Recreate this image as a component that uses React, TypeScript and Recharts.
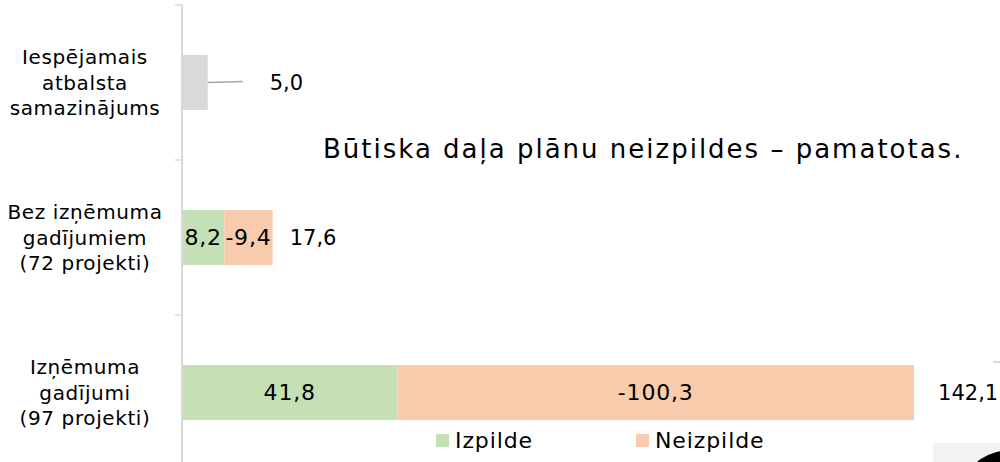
import { BarChart, Bar, XAxis, YAxis, Legend, LabelList } from 'recharts';

// categories (top to bottom) and series values
const categories = [
  ['Iespējamais', 'atbalsta', 'samazinājums'],
  ['Bez izņēmuma', 'gadījumiem', '(72 projekti)'],
  ['Izņēmuma', 'gadījumi', '(97 projekti)'],
];
const izpilde = [null, 8.2, 41.8];
const neizpilde = [null, -9.4, -100.3];
const samazinajums = [5.0, null, null];

const title = 'Būtiska daļa plānu neizpildes – pamatotas.';

const FONT = '"DejaVu Sans", Verdana, sans-serif';
const GREEN = '#c5e0b4';
const PEACH = '#f8cbad';
const GRAY = '#d9d9d9';

const data = categories.map((c, i) => ({
  name: c.join('\n'),
  izpilde: izpilde[i],
  neizpilde: neizpilde[i],
  neizpildeAbs: neizpilde[i] == null ? null : Math.abs(neizpilde[i] as number),
  samazinajums: samazinajums[i],
  total: Math.abs(izpilde[i] ?? 0) + Math.abs(neizpilde[i] ?? 0) + Math.abs(samazinajums[i] ?? 0),
}));

const fmt = (v: number) => v.toFixed(1).replace('.', ',');

const BAND = 155;

function CategoryTick({ x, y, payload }: any) {
  const lines = String(payload.value).split('\n');
  return (
    <g>
      <line x1={175} x2={182} y1={y - BAND / 2} y2={y - BAND / 2} stroke="#d9d9d9" strokeWidth={1.5} />
      <text x={85} y={y} textAnchor="middle" fontFamily={FONT} fontSize={20} letterSpacing={0.6} fill="#000">
        {lines.map((l, i) => (
          <tspan key={i} x={85} y={y + (i - 1) * 25.5} dy="0.35em">{l}</tspan>
        ))}
      </text>
    </g>
  );
}

function InsideLabel({ x, y, width, height, value }: any) {
  if (value == null) return null;
  return (
    <text x={x + width / 2} y={y + height / 2} dy="0.35em" textAnchor="middle"
      fontFamily={FONT} fontSize={22} letterSpacing={0.8} fill="#000">
      {fmt(value)}
    </text>
  );
}

// total label placed after the end of the whole stack
const totalGap = [62, 17, 24];
function TotalLabel({ x, y, width, height, value, leader }: any) {
  if (value == null) return null;
  const row = data.findIndex((r) => r.total === value);
  const end = x + width;
  const cy = y + height / 2;
  return (
    <g>
      {leader && (
        <line x1={end} y1={cy} x2={end + 35} y2={cy - 1} stroke="#a6a6a6" strokeWidth={1.5} />
      )}
      <text x={end + totalGap[row]} y={cy} dy="0.35em" fontFamily={FONT} fontSize={21} fill="#000">
        {fmt(value)}
      </text>
    </g>
  );
}

function LegendContent() {
  const items = [
    { label: 'Izpilde', color: GREEN },
    { label: 'Neizpilde', color: PEACH },
  ];
  return (
    <div style={{ display: 'flex', fontFamily: FONT, fontSize: 22, letterSpacing: 0.9, color: '#000' }}>
      {items.map((it) => (
        <div key={it.label} style={{ display: 'flex', alignItems: 'center', width: 200 }}>
          <span style={{ display: 'inline-block', width: 13, height: 13, background: it.color, marginRight: 6 }} />
          <span>{it.label}</span>
        </div>
      ))}
    </div>
  );
}

export default function App() {
  return (
    <div style={{ position: 'absolute', left: 0, top: 0, width: 1000, height: 462, overflow: 'hidden', background: '#fff' }}>
      <BarChart
        width={1000}
        height={470}
        data={data}
        layout="vertical"
        margin={{ top: 5, right: 4, bottom: 0, left: 0 }}
        barCategoryGap={50}
      >
        <XAxis type="number" domain={[0, 158]} hide />
        <YAxis
          type="category"
          dataKey="name"
          width={182}
          axisLine={{ stroke: '#d9d9d9', strokeWidth: 2 }}
          tickLine={false}
          tick={<CategoryTick />}
          interval={0}
        />
        <Legend
          verticalAlign="middle"
          align="center"
          wrapperStyle={{ top: 428, left: 436, width: 420 }}
          content={<LegendContent />}
        />
        <Bar dataKey="izpilde" stackId="a" fill={GREEN} isAnimationActive={false}>
          <LabelList dataKey="izpilde" content={<InsideLabel />} />
        </Bar>
        <Bar dataKey="neizpildeAbs" stackId="a" fill={PEACH} isAnimationActive={false}>
          <LabelList dataKey="neizpilde" content={<InsideLabel />} />
          <LabelList dataKey={(d: any) => (d.samazinajums == null ? d.total : null)} content={<TotalLabel />} />
        </Bar>
        <Bar dataKey="samazinajums" stackId="a" fill={GRAY} isAnimationActive={false} legendType="none">
          <LabelList dataKey={(d: any) => (d.samazinajums != null ? d.total : null)} content={<TotalLabel leader />} />
        </Bar>
      </BarChart>
      <div style={{ position: 'absolute', left: 323, top: 134, fontFamily: FONT, fontSize: 26, letterSpacing: 2, color: '#000', whiteSpace: 'nowrap' }}>
        {title}
      </div>
      <div style={{ position: 'absolute', left: 993, top: 361, width: 7, height: 2, background: '#d9d9d9' }} />
      <div style={{ position: 'absolute', left: 933, top: 443, width: 67, height: 19, background: '#f2f2f2', overflow: 'hidden' }}>
        <div style={{ position: 'absolute', left: 35, top: 7, width: 90, height: 60, borderRadius: '50%', background: '#000' }} />
      </div>
    </div>
  );
}
